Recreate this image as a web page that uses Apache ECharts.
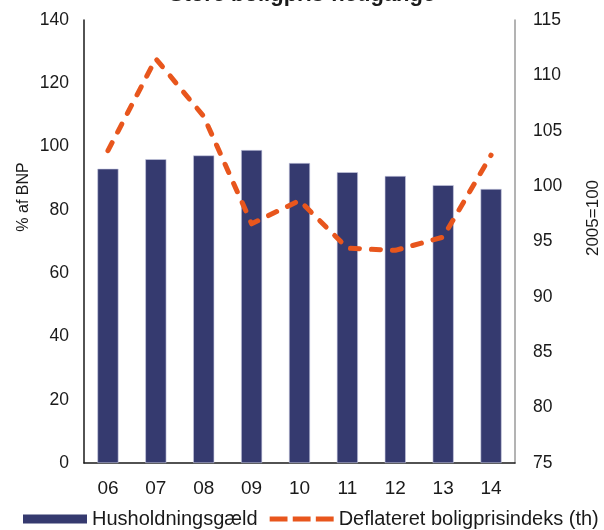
<!DOCTYPE html>
<html>
<head>
<meta charset="utf-8">
<script src="https://cdn.jsdelivr.net/npm/echarts@6/dist/echarts.min.js"></script>
<style>
  html, body { margin: 0; padding: 0; background: #fff; }
  #chart { width: 604px; height: 530px; }
</style>
</head>
<body>
<div id="chart"></div>
<script>
// Years (two-digit labels)
const years = ['06', '07', '08', '09', '10', '11', '12', '13', '14'];
// Household debt, % of GDP (left axis)
const householdDebt = [93.0, 96.0, 97.2, 98.9, 94.8, 91.9, 90.7, 87.8, 86.6];
// Deflated house price index, 2005 = 100 (right axis)
const housePriceIndex = [103.2, 111.5, 106.3, 96.6, 98.7, 94.4, 94.2, 95.4, 102.8];

const leftTicks = { min: 0, max: 140, interval: 20 };
const rightTicks = { min: 75, max: 115, interval: 5 };

const seriesNames = ['Husholdningsgæld', 'Deflateret boligprisindeks (th)'];
const titleText = 'Store boligpris-nedgange';

const FONT = 'Liberation Sans, Arial, sans-serif';
const NAVY = '#353a6f';
const ORANGE = '#e8561d';

// three short dashes used as the legend key of the dashed line
const DASH_ICON = 'path://M0,0h17v5h-17z M22,0h17v5h-17z M44,0h17v5h-17z';

const chart = echarts.init(document.getElementById('chart'), null, { renderer: 'canvas' });

chart.setOption({
  animation: false,
  backgroundColor: '#ffffff',
  textStyle: { fontFamily: FONT, color: '#1a1a1a' },
  title: {
    text: titleText,
    left: 'center',
    top: -21,
    textStyle: { fontFamily: FONT, fontSize: 22, fontWeight: 'bold', color: '#1a1a1a' }
  },
  grid: { left: 84, right: 89, top: 20, bottom: 67, containLabel: false },
  legend: {
    left: 23,
    top: 509,
    width: 700,
    padding: 0,
    itemWidth: 64,
    itemHeight: 9,
    itemGap: 12,
    symbolKeepAspect: true,
    textStyle: { fontFamily: FONT, fontSize: 20, color: '#1a1a1a' },
    data: [
      { name: seriesNames[0], icon: 'rect', itemStyle: { borderWidth: 0 } },
      { name: seriesNames[1], icon: DASH_ICON }
    ]
  },
  xAxis: {
    type: 'category',
    data: years,
    axisLine: { show: true, lineStyle: { color: '#1a1a1a', width: 1.5 } },
    axisTick: { show: false },
    axisLabel: { fontFamily: FONT, fontSize: 19, color: '#1a1a1a', margin: 16 }
  },
  yAxis: [
    {
      type: 'value',
      min: leftTicks.min, max: leftTicks.max, interval: leftTicks.interval,
      axisLine: { show: true, lineStyle: { color: '#1a1a1a', width: 1.5 } },
      axisTick: { show: false },
      splitLine: { show: false },
      axisLabel: { fontFamily: FONT, fontSize: 17.5, color: '#1a1a1a', margin: 15 }
    },
    {
      type: 'value',
      position: 'right',
      min: rightTicks.min, max: rightTicks.max, interval: rightTicks.interval,
      axisLine: { show: true, lineStyle: { color: '#9a9a9a', width: 1.5 } },
      axisTick: { show: false },
      splitLine: { show: false },
      axisLabel: { fontFamily: FONT, fontSize: 17.5, color: '#1a1a1a', margin: 18 }
    }
  ],
  graphic: [
    {
      type: 'text', x: 24, y: 197, rotation: Math.PI / 2,
      style: { text: '% af BNP', font: '16px ' + FONT, fill: '#1a1a1a', align: 'center', verticalAlign: 'middle' }
    },
    {
      type: 'text', x: 593, y: 218, rotation: Math.PI / 2,
      style: { text: '2005=100', font: '17px ' + FONT, fill: '#1a1a1a', align: 'center', verticalAlign: 'middle' }
    }
  ],
  series: [
    {
      name: seriesNames[0],
      type: 'bar',
      yAxisIndex: 0,
      data: householdDebt,
      barWidth: '44%',
      itemStyle: { color: NAVY, borderColor: '#c9cbe3', borderWidth: 0.6 }
    },
    {
      name: seriesNames[1],
      type: 'line',
      yAxisIndex: 1,
      data: housePriceIndex,
      symbol: 'none',
      z: 5,
      lineStyle: { color: ORANGE, width: 5, type: [9, 12], cap: 'round', join: 'round' },
      itemStyle: { color: ORANGE }
    }
  ]
});
</script>
</body>
</html>
